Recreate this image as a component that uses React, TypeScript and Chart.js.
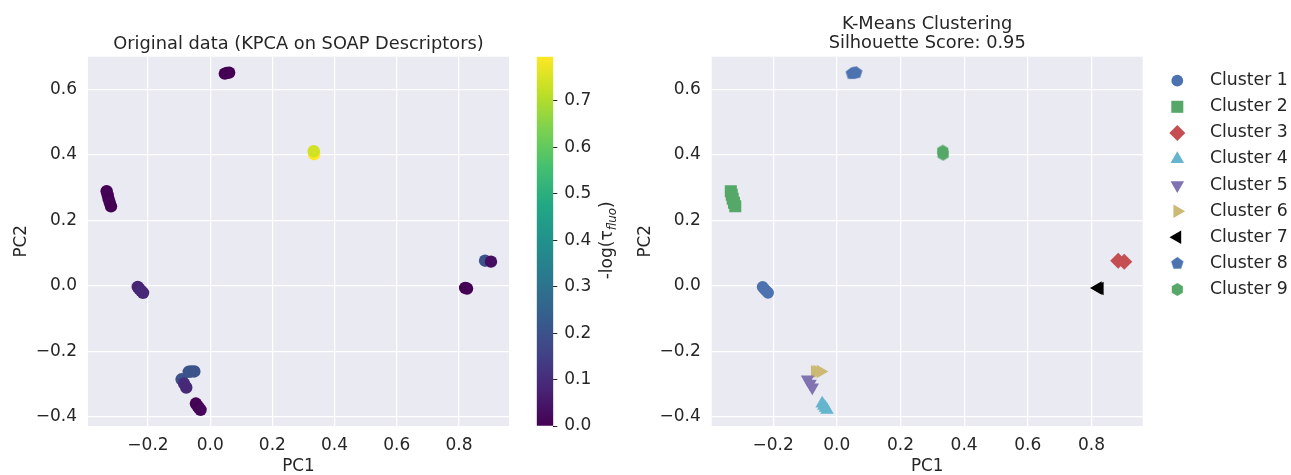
import React, { useEffect, useRef } from "react";
import { Chart, registerables } from "chart.js";
import { drawPoint } from "chart.js/helpers";

Chart.register(...registerables);

// ---------------- data ----------------
const PC1 = [
  -0.233, -0.228, -0.222, -0.216,
  -0.333, -0.330, -0.327, -0.323, -0.319,
  0.884, 0.903,
  -0.046, -0.041, -0.036, -0.031,
  -0.092, -0.084, -0.077,
  -0.069, -0.061, -0.051,
  0.820, 0.826,
  0.047, 0.054, 0.061,
  0.334, 0.333,
];
const PC2 = [
  -0.003, -0.009, -0.015, -0.021,
  0.289, 0.278, 0.266, 0.254, 0.243,
  0.077, 0.074,
  -0.359, -0.366, -0.372, -0.378,
  -0.285, -0.298, -0.310,
  -0.262, -0.261, -0.261,
  -0.006, -0.008,
  0.648, 0.650, 0.651,
  0.402, 0.411,
];
const NEG_LOG_TAU = [
  0.08, 0.08, 0.09, 0.09,
  0.0, 0.01, 0.0, 0.01, 0.0,
  0.2, 0.03,
  0.0, 0.01, 0.0, 0.01,
  0.2, 0.1, 0.09,
  0.2, 0.21, 0.2,
  0.0, 0.0,
  0.0, 0.0, 0.0,
  0.795, 0.74,
];
const KMEANS_LABEL = [
  1, 1, 1, 1,
  2, 2, 2, 2, 2,
  3, 3,
  4, 4, 4, 4,
  5, 5, 5,
  6, 6, 6,
  7, 7,
  8, 8, 8,
  9, 9,
];
const CLUSTER_NAMES = [
  "Cluster 1", "Cluster 2", "Cluster 3", "Cluster 4", "Cluster 5",
  "Cluster 6", "Cluster 7", "Cluster 8", "Cluster 9",
];
const X_TICKS = [-0.2, 0, 0.2, 0.4, 0.6, 0.8];
const Y_TICKS = [-0.4, -0.2, 0, 0.2, 0.4, 0.6];
const CBAR_TICKS = [0, 0.1, 0.2, 0.3, 0.4, 0.5, 0.6, 0.7];
const X_LIMITS = [-0.393, 0.961];
const Y_LIMITS = [-0.4275, 0.6995];

const LEFT_TITLE = "Original data (KPCA on SOAP Descriptors)";
const RIGHT_TITLE = ["K-Means Clustering", "Silhouette Score: 0.95"];
const X_LABEL = "PC1";
const Y_LABEL = "PC2";

// ---------------- styles ----------------
const FONT = "'DejaVu Sans', 'Liberation Sans', sans-serif";
const TEXT = "#262626";
const AX_BG = "#eaeaf2";
const TICK_SIZE = 17;
const TITLE_SIZE = 17.8;
const LABEL_SIZE = 16.8;
const VIRIDIS = [
  "#440154", "#482475", "#414487", "#355f8d", "#2a788e", "#21918c",
  "#22a884", "#44bf70", "#7ad151", "#bddf26", "#fde725",
];
const CLUSTER_STYLE = [
  { color: "#4c72b0", style: "circle", rot: 0, r: 5.9 },
  { color: "#55a868", style: "rect", rot: 0, r: 8.5 },
  { color: "#c44e52", style: "rectRot", rot: 0, r: 8 },
  { color: "#64b5cd", style: "triangle", rot: 0, r: 7.8 },
  { color: "#8172b2", style: "triangle", rot: 180, r: 7.8 },
  { color: "#ccb974", style: "triangle", rot: 90, r: 7.8 },
  { color: "#000000", style: "triangle", rot: 270, r: 7.8 },
  { color: "#4c72b0", style: "pentagon", rot: 0, r: 6.5 },
  { color: "#55a868", style: "hexagon", rot: 0, r: 6.4 },
];

Chart.defaults.font.family = FONT;
Chart.defaults.color = TEXT;

function hexToRgb(h: string) {
  const n = parseInt(h.slice(1), 16);
  return [(n >> 16) & 255, (n >> 8) & 255, n & 255];
}
function viridis(t: number) {
  const c = Math.max(0, Math.min(1, t)) * 10;
  const i = Math.min(9, Math.floor(c));
  const f = c - i;
  const a = hexToRgb(VIRIDIS[i]);
  const b = hexToRgb(VIRIDIS[i + 1]);
  const m = a.map((v, k) => Math.round(v + (b[k] - v) * f));
  return `rgb(${m[0]},${m[1]},${m[2]})`;
}
function fmt(v: number) {
  const s = Math.abs(v).toFixed(1);
  return v < -1e-9 ? "\u2212" + s : s;
}
function polygonImage(sides: number, R: number, color: string) {
  const size = Math.ceil(2 * R + 2);
  const c = document.createElement("canvas");
  c.width = size;
  c.height = size;
  const g = c.getContext("2d")!;
  g.fillStyle = color;
  g.beginPath();
  for (let k = 0; k < sides; k++) {
    const a = -Math.PI / 2 + (k * 2 * Math.PI) / sides;
    const px = size / 2 + R * Math.cos(a);
    const py = size / 2 + R * Math.sin(a);
    if (k === 0) g.moveTo(px, py);
    else g.lineTo(px, py);
  }
  g.closePath();
  g.fill();
  return c;
}

const axesBg = {
  id: "axesBg",
  beforeDraw(chart: any) {
    const { ctx, chartArea: a } = chart;
    ctx.save();
    ctx.fillStyle = AX_BG;
    ctx.fillRect(a.left, a.top, a.right - a.left, a.bottom - a.top);
    ctx.restore();
  },
};

function pcScale(axis: "x" | "y", size: number, titlePad: number) {
  const isX = axis === "x";
  const ticks = isX ? X_TICKS : Y_TICKS;
  const lim = isX ? X_LIMITS : Y_LIMITS;
  return {
    type: "linear",
    position: isX ? "bottom" : "left",
    min: lim[0],
    max: lim[1],
    afterBuildTicks: (s: any) => {
      s.ticks = ticks.map((value) => ({ value }));
    },
    afterFit: (s: any) => {
      if (isX) s.height = size;
      else s.width = size;
    },
    grid: { color: "#ffffff", lineWidth: 1.2, drawTicks: false },
    border: { display: false },
    ticks: {
      padding: isX ? 9.5 : 11,
      color: TEXT,
      font: { size: TICK_SIZE },
      maxRotation: 0,
      autoSkip: false,
      callback: (v: any) => fmt(Number(v)),
    },
    title: {
      display: true,
      text: isX ? X_LABEL : Y_LABEL,
      color: TEXT,
      font: { size: LABEL_SIZE, lineHeight: 1 },
      padding: { top: titlePad, bottom: 0 },
    },
  };
}

const cbarLabel = {
  id: "cbarLabel",
  afterDraw(chart: any) {
    const { ctx, chartArea: a } = chart;
    const cx = a.right + 53.4;
    const cy = (a.top + a.bottom) / 2 - 1;
    const main = `${TICK_SIZE}px ${FONT}`;
    const sub = `italic 11.8px ${FONT}`;
    const parts = [
      { t: "-log(\u03c4", f: main, dy: 0 },
      { t: "fluo", f: sub, dy: 3.6 },
      { t: ")", f: main, dy: 0 },
    ];
    ctx.save();
    ctx.translate(cx, cy);
    ctx.rotate(-Math.PI / 2);
    ctx.fillStyle = TEXT;
    ctx.textAlign = "left";
    ctx.textBaseline = "alphabetic";
    let total = 0;
    const widths = parts.map((p) => {
      ctx.font = p.f;
      const w = ctx.measureText(p.t).width;
      total += w;
      return w;
    });
    let x = -total / 2;
    parts.forEach((p, i) => {
      ctx.font = p.f;
      ctx.fillText(p.t, x, 5.7 + p.dy);
      x += widths[i];
    });
    ctx.restore();
  },
};

const sideLegend = {
  id: "sideLegend",
  afterDraw(chart: any) {
    const { ctx, chartArea: a } = chart;
    const mx = a.right + 34.6;
    const tx = a.right + 67.3;
    chart.data.datasets.forEach((ds: any, i: number) => {
      const y = a.top + 24 + 26.1 * i;
      ctx.save();
      ctx.fillStyle = ds.pointBackgroundColor;
      drawPoint(
        ctx,
        { pointStyle: ds.pointStyle, rotation: ds.pointRotation || 0, radius: ds.pointRadius, borderWidth: 0 } as any,
        mx,
        y
      );
      ctx.restore();
      ctx.save();
      ctx.fillStyle = TEXT;
      ctx.font = `17.3px ${FONT}`;
      ctx.textAlign = "left";
      ctx.textBaseline = "middle";
      ctx.fillText(ds.label, tx, y);
      ctx.restore();
    });
  },
};

export default function App() {
  const leftRef = useRef<HTMLCanvasElement>(null);
  const cbarRef = useRef<HTMLCanvasElement>(null);
  const rightRef = useRef<HTMLCanvasElement>(null);

  useEffect(() => {
    const points = PC1.map((x, i) => ({ x, y: PC2[i] }));
    const vmin = Math.min(...NEG_LOG_TAU);
    const vmax = Math.max(...NEG_LOG_TAU);
    const colors = NEG_LOG_TAU.map((v) => viridis((v - vmin) / (vmax - vmin)));

    const left = new Chart(leftRef.current!, {
      type: "scatter",
      data: {
        datasets: [
          {
            data: points,
            pointBackgroundColor: colors,
            pointBorderWidth: 0,
            pointRadius: 6.2,
            pointHoverRadius: 6.2,
          },
        ],
      },
      options: {
        responsive: false,
        animation: false,
        events: [],
        layout: { padding: { left: 0, right: 11, top: 0, bottom: 0 } },
        plugins: {
          legend: { display: false },
          tooltip: { enabled: false },
          title: {
            display: true,
            fullSize: false,
            text: LEFT_TITLE,
            color: TEXT,
            font: { size: TITLE_SIZE, weight: "normal", lineHeight: "19.4px" },
            padding: { top: 34.3, bottom: 3 },
          },
        },
        scales: {
          x: pcScale("x", 49, 0),
          y: pcScale("y", 88, 13),
        } as any,
      },
      plugins: [axesBg],
    } as any);

    const cbar = new Chart(cbarRef.current!, {
      type: "bar",
      data: {
        labels: [""],
        datasets: [
          {
            data: [[vmin, vmax]],
            backgroundColor: (c: any) => {
              const area = c.chart.chartArea;
              if (!area) return VIRIDIS[0];
              const g = c.chart.ctx.createLinearGradient(0, area.bottom, 0, area.top);
              VIRIDIS.forEach((col, i) => g.addColorStop(i / 10, col));
              return g;
            },
            borderWidth: 0,
            barPercentage: 1,
            categoryPercentage: 1,
          },
        ],
      },
      options: {
        responsive: false,
        animation: false,
        events: [],
        layout: { padding: { left: 36.7, right: 0, top: 56.7, bottom: 49 } },
        plugins: { legend: { display: false }, tooltip: { enabled: false } },
        scales: {
          x: { display: false },
          y: {
            position: "right",
            min: vmin,
            max: vmax,
            afterBuildTicks: (s: any) => {
              s.ticks = CBAR_TICKS.map((value) => ({ value }));
            },
            afterFit: (s: any) => {
              s.width = 66.7;
            },
            grid: { drawOnChartArea: false, drawTicks: true, tickLength: 4, tickColor: TEXT, lineWidth: 1 },
            border: { display: false },
            ticks: {
              padding: 7,
              color: TEXT,
              font: { size: TICK_SIZE },
              callback: (v: any) => Number(v).toFixed(1),
            },
          },
        } as any,
      },
      plugins: [cbarLabel],
    } as any);

    const datasets = CLUSTER_NAMES.map((name, k) => {
      const st = CLUSTER_STYLE[k];
      const pts = points.filter((_, i) => KMEANS_LABEL[i] === k + 1);
      let pointStyle: any = st.style;
      if (st.style === "pentagon") pointStyle = polygonImage(5, st.r, st.color);
      if (st.style === "hexagon") pointStyle = polygonImage(6, st.r, st.color);
      return {
        label: name,
        data: pts,
        pointStyle,
        pointRotation: st.rot,
        pointRadius: st.r,
        pointHoverRadius: st.r,
        pointBackgroundColor: st.color,
        backgroundColor: st.color,
        pointBorderWidth: 0,
      };
    });

    const right = new Chart(rightRef.current!, {
      type: "scatter",
      data: { datasets },
      options: {
        responsive: false,
        animation: false,
        events: [],
        layout: { padding: { left: 0, right: 148.3, top: 0, bottom: 0 } },
        plugins: {
          legend: { display: false },
          tooltip: { enabled: false },
          title: {
            display: true,
            fullSize: false,
            text: RIGHT_TITLE,
            color: TEXT,
            font: { size: TITLE_SIZE, weight: "normal", lineHeight: "19.4px" },
            padding: { top: 14.5, bottom: 3.4 },
          },
        },
        scales: {
          x: pcScale("x", 49, 0),
          y: pcScale("y", 91.7, 16.75),
        } as any,
      },
      plugins: [axesBg, sideLegend],
    } as any);

    return () => {
      left.destroy();
      cbar.destroy();
      right.destroy();
    };
  }, []);

  const abs = (l: number, w: number): React.CSSProperties => ({
    position: "absolute",
    left: l,
    top: 0,
    width: w,
    height: 475,
  });

  return (
    <div
      style={{
        position: "absolute",
        left: 0,
        top: 0,
        width: 1291,
        height: 475,
        overflow: "hidden",
        background: "#ffffff",
      }}
    >
      <canvas ref={leftRef} width={520} height={475} style={abs(0, 520)} />
      <canvas ref={cbarRef} width={120} height={475} style={abs(500, 120)} />
      <canvas ref={rightRef} width={671} height={475} style={abs(620, 671)} />
    </div>
  );
}
